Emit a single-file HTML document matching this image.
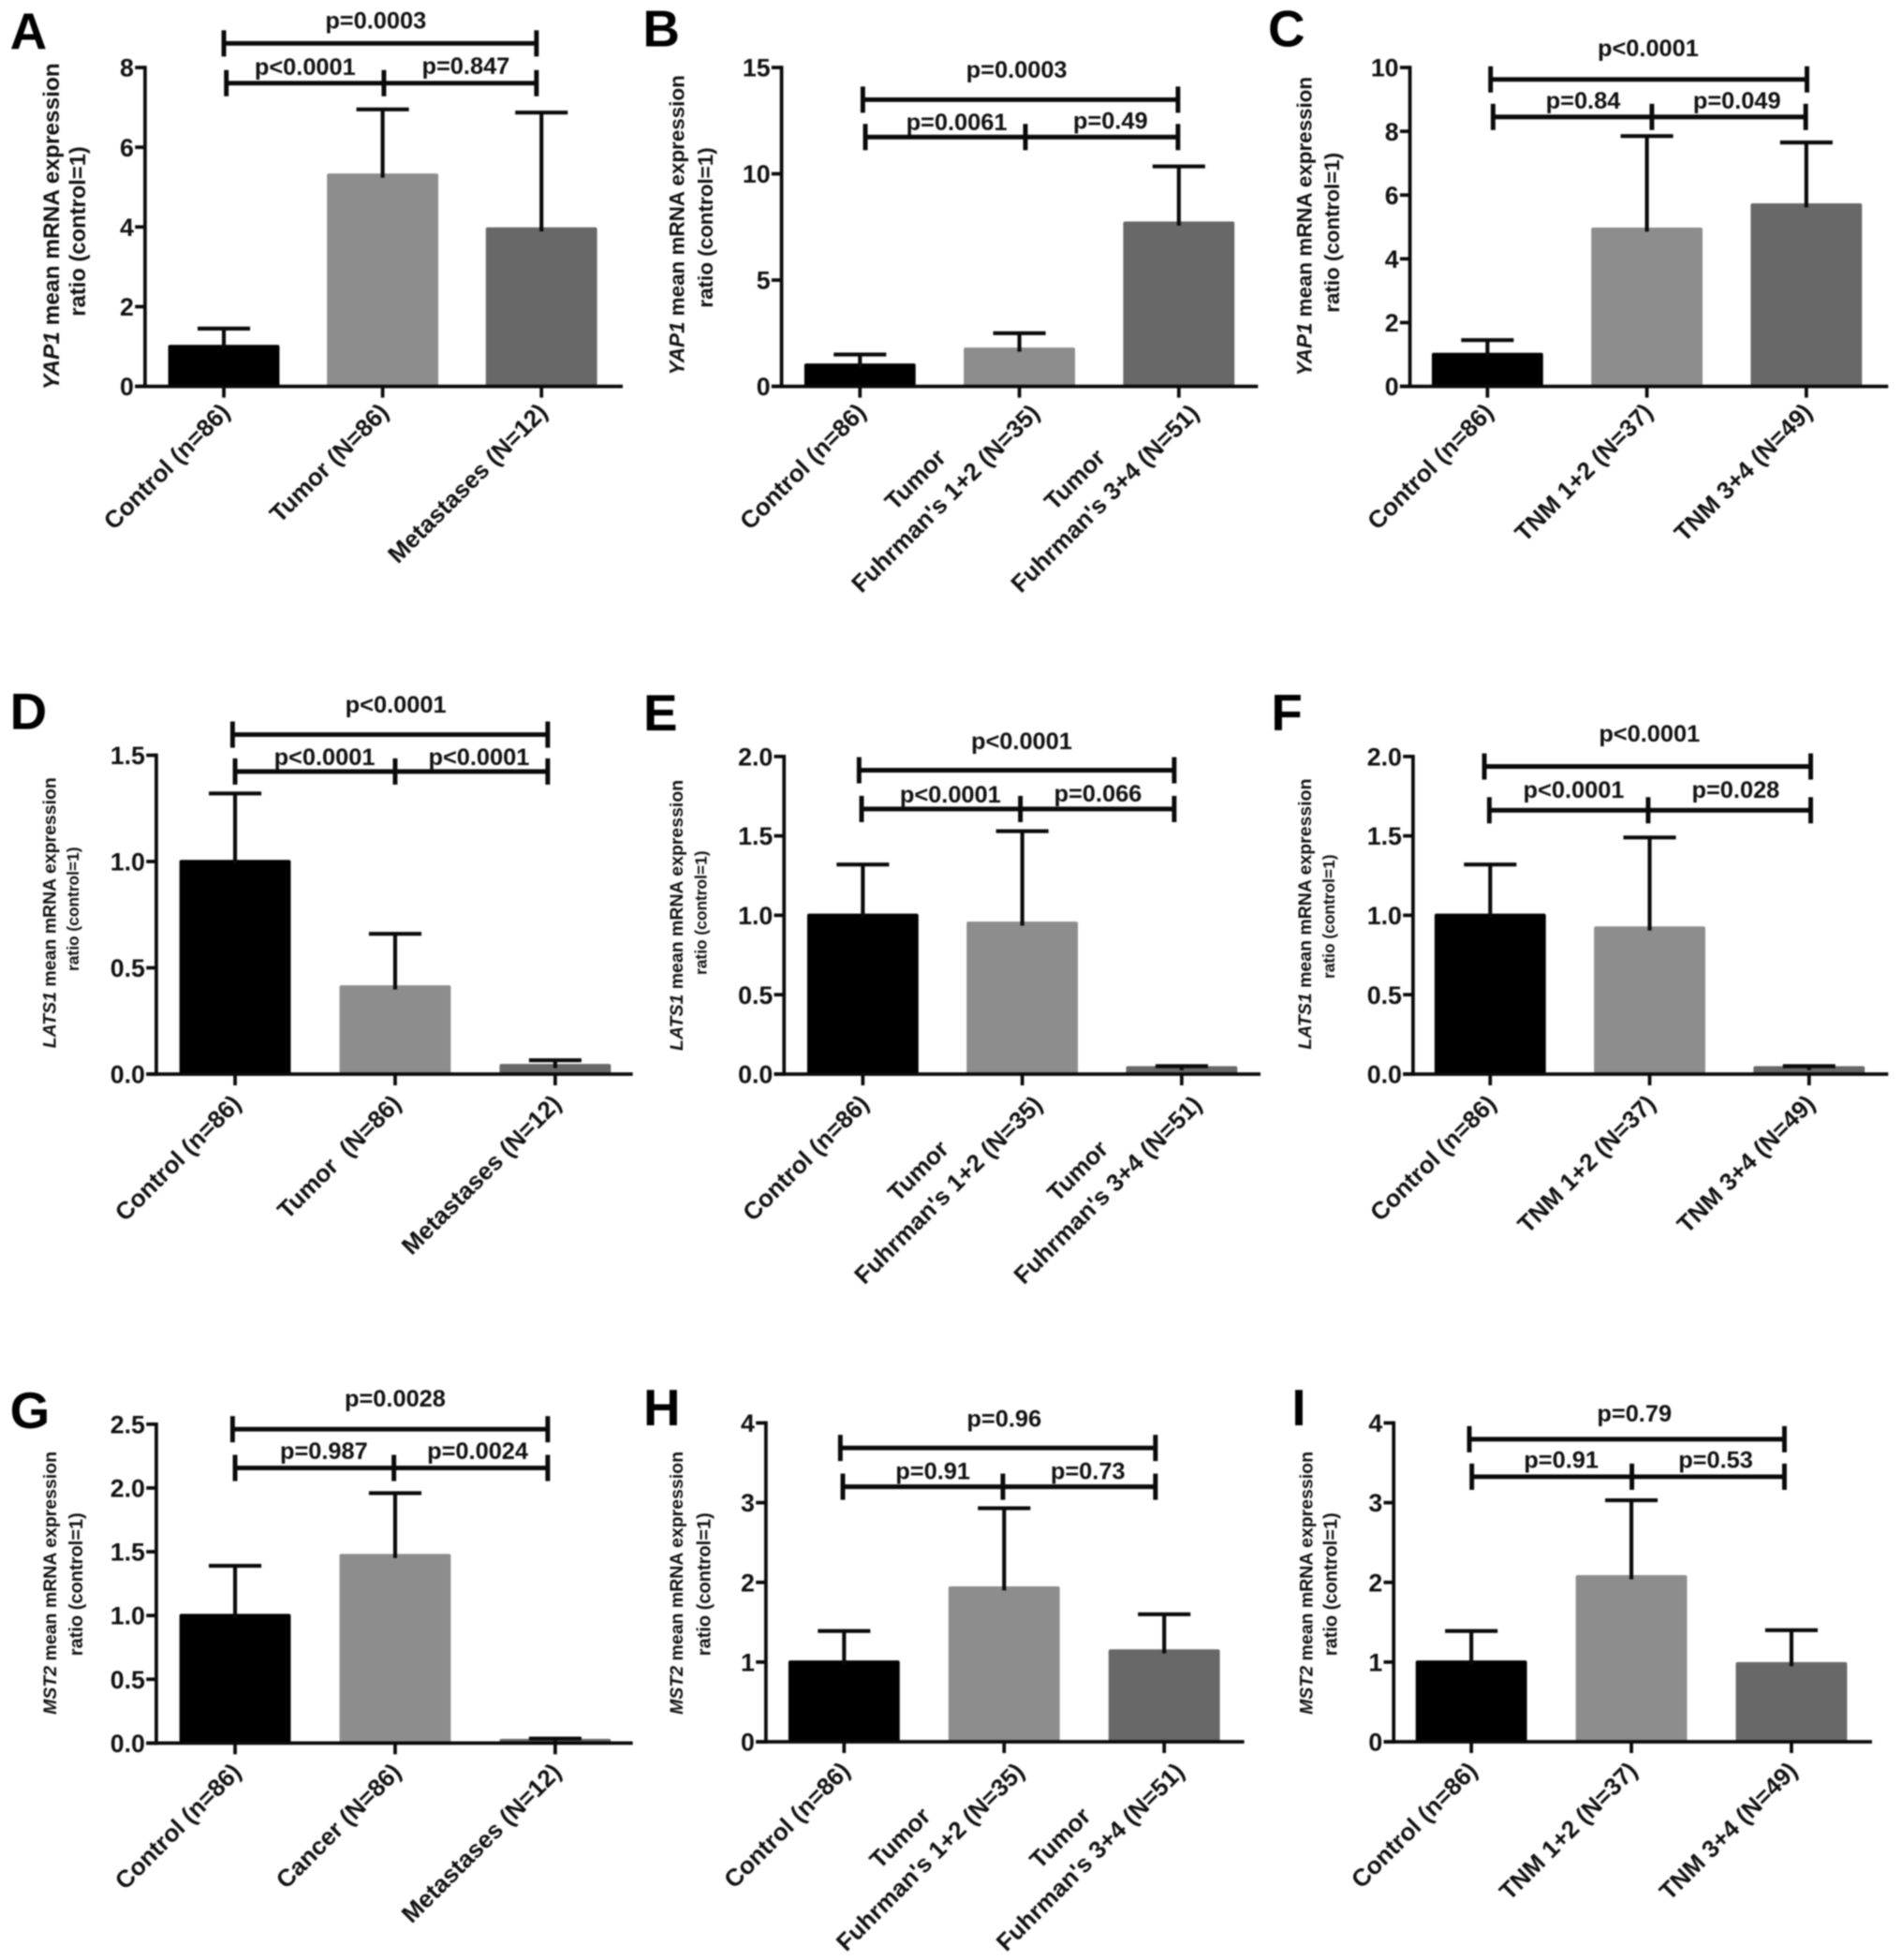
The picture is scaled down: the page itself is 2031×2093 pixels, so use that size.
<!DOCTYPE html>
<html lang="en">
<head>
<meta charset="utf-8">
<title>YAP1, LATS1 and MST2 mRNA expression</title>
<style>
html,body{margin:0;padding:0;background:#fff;}
body{width:2031px;height:2093px;overflow:hidden;}
svg{display:block;filter:blur(0.8px);}
text{font-family:"Liberation Sans",Arial,sans-serif;font-weight:bold;fill:#111;}
</style>
</head>
<body>
<svg id="figure" xmlns="http://www.w3.org/2000/svg" width="2031" height="2093" viewBox="0 0 1521 1567.5" preserveAspectRatio="none"></svg>
<script>
const catsA = ["Control (n=86)", "Tumor (N=86)", "Metastases (N=12)"];
const catsB = ["Control (n=86)", "Tumor|Fuhrman's 1+2 (N=35)", "Tumor|Fuhrman's 3+4 (N=51)"];
const catsC = ["Control (n=86)", "TNM 1+2 (N=37)", "TNM 3+4 (N=49)"];
const catsD = ["Control (n=86)", "Tumor  (N=86)", "Metastases (N=12)"];
const catsE = ["Control (n=86)", "Tumor|Fuhrman's 1+2 (N=35)", "Tumor|Fuhrman's 3+4 (N=51)"];
const catsF = ["Control (n=86)", "TNM 1+2 (N=37)", "TNM 3+4 (N=49)"];
const catsG = ["Control (n=86)", "Cancer (N=86)", "Metastases (N=12)"];
const catsH = ["Control (n=86)", "Tumor|Fuhrman's 1+2 (N=35)", "Tumor|Fuhrman's 3+4 (N=51)"];
const catsI = ["Control (n=86)", "TNM 1+2 (N=37)", "TNM 3+4 (N=49)"];

const valuesA = [1.0, 5.3, 3.95];
const valuesB = [1.0, 1.75, 7.68];
const valuesC = [1.0, 4.93, 5.69];
const valuesD = [1.0, 0.41, 0.04];
const valuesE = [1.0, 0.95, 0.04];
const valuesF = [1.0, 0.92, 0.04];
const valuesG = [1.0, 1.47, 0.02];
const valuesH = [1.0, 1.93, 1.14];
const valuesI = [1.0, 2.07, 0.98];

const errorTopsA = [1.45, 6.95, 6.87];
const errorTopsB = [1.5, 2.5, 10.35];
const errorTopsC = [1.45, 7.85, 7.65];
const errorTopsD = [1.32, 0.66, 0.065];
const errorTopsE = [1.32, 1.53, 0.05];
const errorTopsF = [1.32, 1.49, 0.05];
const errorTopsG = [1.39, 1.96, 0.035];
const errorTopsH = [1.39, 2.93, 1.6];
const errorTopsI = [1.39, 3.03, 1.4];

const ticksA = ["0", "2", "4", "6", "8"];
const ticksB = ["0", "5", "10", "15"];
const ticksC = ["0", "2", "4", "6", "8", "10"];
const ticksD = ["0.0", "0.5", "1.0", "1.5"];
const ticksE = ["0.0", "0.5", "1.0", "1.5", "2.0"];
const ticksF = ["0.0", "0.5", "1.0", "1.5", "2.0"];
const ticksG = ["0.0", "0.5", "1.0", "1.5", "2.0", "2.5"];
const ticksH = ["0", "1", "2", "3", "4"];
const ticksI = ["0", "1", "2", "3", "4"];

const pLabelsA = ["p=0.0003", "p<0.0001", "p=0.847"];
const pLabelsB = ["p=0.0003", "p=0.0061", "p=0.49"];
const pLabelsC = ["p<0.0001", "p=0.84", "p=0.049"];
const pLabelsD = ["p<0.0001", "p<0.0001", "p<0.0001"];
const pLabelsE = ["p<0.0001", "p<0.0001", "p=0.066"];
const pLabelsF = ["p<0.0001", "p<0.0001", "p=0.028"];
const pLabelsG = ["p=0.0028", "p=0.987", "p=0.0024"];
const pLabelsH = ["p=0.96", "p=0.91", "p=0.73"];
const pLabelsI = ["p=0.79", "p=0.91", "p=0.53"];

const barFills = ["#000000", "#8d8d8d", "#686868"];
const NS = "http://www.w3.org/2000/svg";
const fig = document.getElementById("figure");

const panels = [
 {id:"a",letter:"A",lx:8,ly:39,ax:116,yt:54,y0:309,end:498,c0:179,step:127,labDy:15.5,cats:catsA,vals:valuesA,errs:errorTopsA,ticks:ticksA,p:pLabelsA,gene:"YAP1",tx:[47,68],ty:181,t2dy:4,fs:[18.3,17.8],
  top:[179,429,34.7],low:[181,429,66.5,307],pp:[[300.5,23],[244,60],[372.5,59]]},
 {id:"b",letter:"B",lx:514,ly:37,ax:625,yt:54,y0:309,end:1006,c0:687.7,step:127.5,labDy:15.5,cats:catsB,vals:valuesB,errs:errorTopsB,ticks:ticksB,p:pLabelsB,gene:"YAP1",tx:[547,570],ty:180,t2dy:2,fs:[16.8,16.8],
  top:[690,942,79.7],low:[692,942,109.6,820],pp:[[813,62],[765,104],[888,103]]},
 {id:"c",letter:"C",lx:1014,ly:37,ax:1127.5,yt:54,y0:309,end:1510,c0:1189.5,step:127.5,labDy:15.5,cats:catsC,vals:valuesC,errs:errorTopsC,ticks:ticksC,p:pLabelsC,gene:"YAP1",tx:[1049,1071],ty:181,t2dy:5,fs:[16.75,16.75],
  top:[1192,1445,63.5],low:[1194,1444,93.5,1321],pp:[[1318,45],[1266,87],[1389,87]]},
 {id:"d",letter:"D",lx:8,ly:583,ax:125,yt:604,y0:859,end:506,c0:188,step:128,labDy:18.5,cats:catsD,vals:valuesD,errs:errorTopsD,ticks:ticksD,p:pLabelsD,gene:"LATS1",tx:[44.5,63],ty:730,t2dy:-3,fs:[14.6,13],
  top:[186,438,587.5],low:[188,438,617,316],pp:[[316.5,570],[259.5,612],[383,612]]},
 {id:"e",letter:"E",lx:514.5,ly:584,ax:627,yt:605,y0:859,end:1008,c0:690,step:127.5,labDy:18.5,cats:catsE,vals:valuesE,errs:errorTopsE,ticks:ticksE,p:pLabelsE,gene:"LATS1",tx:[546,565],ty:732,t2dy:-2,fs:[14.6,13],
  top:[687,939,616],low:[689,939,647,816],pp:[[817,599],[760,642],[878,641]]},
 {id:"f",letter:"F",lx:1016.5,ly:584,ax:1130,yt:605,y0:859,end:1510,c0:1191.7,step:127.5,labDy:18.5,cats:catsF,vals:valuesF,errs:errorTopsF,ticks:ticksF,p:pLabelsF,gene:"LATS1",tx:[1048.5,1067],ty:731,t2dy:2,fs:[14.6,13],
  top:[1187,1448,613],low:[1191,1448,648,1318],pp:[[1319,593],[1258.5,638],[1388,638]]},
 {id:"g",letter:"G",lx:8,ly:1142,ax:125,yt:1139,y0:1394,end:506,c0:188,step:128,labDy:18,cats:catsG,vals:valuesG,errs:errorTopsG,ticks:ticksG,p:pLabelsG,gene:"MST2",tx:[45,66],ty:1266,t2dy:1,fs:[14.6,15],
  top:[186,438,1143],low:[188,438,1174,315],pp:[[316,1125],[259,1167],[382,1167]]},
 {id:"h",letter:"H",lx:514.5,ly:1140,ax:612.5,yt:1138,y0:1393,end:995,c0:675,step:128,labDy:18,cats:catsH,vals:valuesH,errs:errorTopsH,ticks:ticksH,p:pLabelsH,gene:"MST2",tx:[546,568],ty:1266,t2dy:1,fs:[14.6,15],
  top:[672,924,1158],low:[674,924,1189,802],pp:[[803,1141],[746,1183],[870,1183]]},
 {id:"i",letter:"I",lx:1033,ly:1140,ax:1114.5,yt:1138,y0:1393,end:1497,c0:1176.6,step:128,labDy:18,cats:catsI,vals:valuesI,errs:errorTopsI,ticks:ticksI,p:pLabelsI,gene:"MST2",tx:[1049.5,1069],ty:1266,t2dy:1,fs:[14.6,15],
  top:[1175,1427,1151],low:[1177,1427,1181,1305],pp:[[1307,1137],[1248.5,1174],[1372,1174]]}
];

function make(parent, tag, attrs, txt) {
  const el = document.createElementNS(NS, tag);
  for (const k in attrs) el.setAttribute(k, attrs[k]);
  if (txt !== undefined) el.textContent = txt;
  parent.appendChild(el);
  return el;
}
function line(parent, x1, y1, x2, y2, w) {
  return make(parent, "line", {x1:x1, y1:y1, x2:x2, y2:y2, stroke:"#0a0a0a", "stroke-width":w});
}

function drawPanel(P) {
  const yMax = parseFloat(P.ticks[P.ticks.length - 1]);
  const yScale = v => P.y0 - (v / yMax) * (P.y0 - P.yt);
  const xScale = i => P.c0 + i * P.step;

  const g = make(fig, "g", {});
  
  

  const letter = make(g, "text", {x:P.lx, y:P.ly, "font-size":41, style:"fill:#000"}, P.letter);
  
  

  P.vals.forEach((v, i) => {
    const top = yScale(v);
    const cx = xScale(i);
    const bar = make(g, "rect", {x:cx - 44.5, y:top - 1.3, width:89, height:P.y0 - top + 1.3, rx:1.5, fill:barFills[i]});
    
    
    const err = line(g, cx, yScale(P.errs[i]), cx, top + 2, 3.1);
    
    
    const cap = line(g, cx - 21, yScale(P.errs[i]), cx + 21, yScale(P.errs[i]), 3.1);
    
    
    const tick = line(g, cx, P.y0, cx, P.y0 + 9, 2.8);
    
    

    const parts = P.cats[i].split("|");
    const ax = cx - 0.5, ay = P.y0 + P.labDy;
    const lab = make(g, "g", {transform:"translate(" + ax + "," + ay + ") rotate(-45)"});
    
    
    const two = parts.length === 2;
    const last = make(lab, "text", {x:two ? 7.5 : 0, y:two ? 17.5 : 9, "font-size":19.5, "text-anchor":"end", style:"white-space:pre"}, parts[parts.length - 1]);
    if (two) {
      const w = last.getComputedTextLength();
      make(lab, "text", {x:-w / 2 + 1.2, y:-10.3, "font-size":19.5, "text-anchor":"middle"}, parts[0]);
    }
  });

  const yAxis = line(g, P.ax, P.yt - 1.4, P.ax, P.y0 + 1.4, 2.8);
  
  
  const xAxis = line(g, P.ax - 8, P.y0, P.end, P.y0, 2.8);
  
  

  P.ticks.forEach(t => {
    const y = yScale(parseFloat(t));
    const tk = line(g, P.ax - 8, y, P.ax, y, 2.8);
    
    
    const tl = make(g, "text", {x:P.ax - 9, y:y + 7.2, "font-size":20, "text-anchor":"end"}, t);
    
    
  });

  const t1 = make(g, "text", {transform:"translate(" + P.tx[0] + "," + P.ty + ") rotate(-90)", "font-size":P.fs[0], "text-anchor":"middle"});
  
  
  make(t1, "tspan", {"font-style":"italic"}, P.gene);
  make(t1, "tspan", {}, " mean mRNA expression");
  const t2 = make(g, "text", {transform:"translate(" + P.tx[1] + "," + (P.ty + P.t2dy) + ") rotate(-90)", "font-size":P.fs[1], "text-anchor":"middle"}, "ratio (control=1)");
  
  

  const br = make(g, "g", {});
  
  
  const [tx1, tx2, ty] = P.top;
  const [lx1, lx2, ly, lm] = P.low;
  const h = 10.5, bw = 3.7;
  line(br, tx1, ty, tx2, ty, bw);
  line(br, tx1, ty - h, tx1, ty + h, bw);
  line(br, tx2, ty - h, tx2, ty + h, bw);
  line(br, lx1, ly, lx2, ly, bw);
  line(br, lx1, ly - h, lx1, ly + h, bw);
  line(br, lm, ly - h, lm, ly + h, bw);
  line(br, lx2, ly - h, lx2, ly + h, bw);

  P.p.forEach((s, i) => {
    const pl = make(g, "text", {x:P.pp[i][0], y:P.pp[i][1], "font-size":19, "text-anchor":"middle"}, s);
    
    
  });
}
panels.forEach(drawPanel);
</script>
</body>
</html>
